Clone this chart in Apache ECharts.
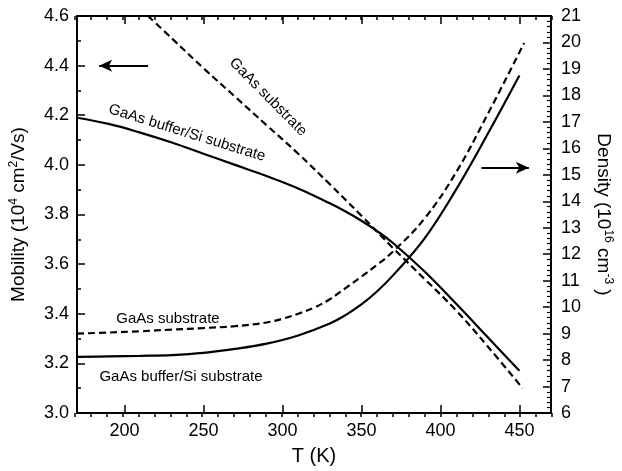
<!DOCTYPE html>
<html>
<head>
<meta charset="utf-8">
<script src="https://cdn.jsdelivr.net/npm/echarts@6/dist/echarts.min.js"></script>
<style>
html,body{margin:0;padding:0;background:#fff;}
#chart{width:622px;height:471px;}
</style>
</head>
<body>
<div id="chart"></div>
<script>
// temperature (K) and values
var tempSi = [170,190,210,230,250,270,290,310,330,340,350,360,370,390,410,430,450];
var mobilitySi = [4.19,4.165,4.13,4.09,4.045,4.0,3.955,3.905,3.845,3.812,3.775,3.733,3.685,3.57,3.44,3.305,3.17];
var densitySi = [8.12,8.14,8.16,8.19,8.27,8.42,8.62,8.93,9.38,9.7,10.1,10.6,11.2,12.6,14.45,16.55,18.75];

var tempGaAsMu = [215,230,250,270,290,310,330,350,370,390,410,430,452];
var mobilityGaAs = [4.60,4.51,4.39,4.275,4.16,4.045,3.922,3.795,3.665,3.54,3.413,3.268,3.10];

var tempGaAsN = [170,190,210,230,250,270,290,300,310,320,330,340,350,360,370,390,410,430,453];
var densityGaAs = [9.0,9.04,9.09,9.15,9.21,9.28,9.42,9.56,9.75,9.98,10.3,10.72,11.15,11.6,12.1,13.35,15.1,17.3,19.98];

var xMajor = [200,250,300,350,400,450];

function pairs(xs, ys){
    var out = [];
    xs.forEach(function(x, i){ out.push([x, ys[i]]); });
    return out;
}

var chart = echarts.init(document.getElementById('chart'));
var font = 'Liberation Sans, Arial, sans-serif';
var gridBox = { left: 75, right: 70, top: 16, bottom: 54 };

var option = {
    animation: false,
    backgroundColor: '#fff',
    textStyle: { fontFamily: font, color: '#000' },
    grid: [
        { left: gridBox.left, right: gridBox.right, top: gridBox.top, bottom: gridBox.bottom },
        { left: gridBox.left, right: gridBox.right, top: gridBox.top, bottom: gridBox.bottom }
    ],
    xAxis: [
        {   // bottom: major ticks + labels
            gridIndex: 0, type: 'value', position: 'bottom', min: 170, max: 470,
            name: 'T (K)', nameLocation: 'middle', nameGap: 33,
            nameTextStyle: { fontSize: 20, color: '#000', fontFamily: font },
            axisLine: { lineStyle: { color: '#000', width: 2 } },
            axisTick: { inside: true, length: 8, customValues: xMajor, lineStyle: { color: '#000', width: 1.5 } },
            axisLabel: { customValues: xMajor, fontSize: 18, color: '#000', margin: 9, fontFamily: font },
            splitLine: { show: false }
        },
        {   // top: major ticks
            gridIndex: 0, type: 'value', position: 'top', min: 170, max: 470,
            axisLine: { lineStyle: { color: '#000', width: 2 } },
            axisTick: { inside: true, length: 8, customValues: xMajor, lineStyle: { color: '#000', width: 1.5 } },
            axisLabel: { show: false },
            splitLine: { show: false }
        },
        {   // bottom minor ticks
            gridIndex: 1, type: 'value', position: 'bottom', min: 170, max: 470, interval: 10,
            axisLine: { show: false },
            axisTick: { inside: true, length: 4, lineStyle: { color: '#000', width: 1.5 } },
            axisLabel: { show: false },
            splitLine: { show: false }
        },
        {   // top minor ticks
            gridIndex: 1, type: 'value', position: 'top', min: 170, max: 470, interval: 10,
            axisLine: { show: false },
            axisTick: { inside: true, length: 4, lineStyle: { color: '#000', width: 1.5 } },
            axisLabel: { show: false },
            splitLine: { show: false }
        }
    ],
    yAxis: [
        {
            gridIndex: 0, type: 'value', position: 'left', min: 3.0, max: 4.6, interval: 0.2,
            name: '{a|Mobility (10}{s|4}{a| cm}{s|2}{a|/Vs)}',
            nameLocation: 'middle', nameGap: 47, nameRotate: 90,
            nameTextStyle: {
                rich: {
                    a: { fontSize: 19, color: '#000', fontFamily: font },
                    s: { fontSize: 12, color: '#000', fontFamily: font, padding: [0, 0, 10, 0] }
                }
            },
            axisLine: { lineStyle: { color: '#000', width: 2 } },
            axisTick: { inside: true, length: 8, lineStyle: { color: '#000', width: 1.5 } },
            minorTick: { show: true, splitNumber: 2, length: 4, lineStyle: { color: '#000', width: 1.5 } },
            axisLabel: {
                fontSize: 18, color: '#000', margin: 8, fontFamily: font,
                formatter: function(v){ return v.toFixed(1); }
            },
            splitLine: { show: false }
        },
        {
            gridIndex: 0, type: 'value', position: 'right', min: 6, max: 21, interval: 1,
            name: '{a|Density (10}{s|16}{a| cm}{s|-3}{a| )}',
            nameLocation: 'middle', nameGap: 41, nameRotate: -90,
            nameTextStyle: {
                rich: {
                    a: { fontSize: 19, color: '#000', fontFamily: font },
                    s: { fontSize: 12, color: '#000', fontFamily: font, padding: [0, 0, 10, 0] }
                }
            },
            axisLine: { lineStyle: { color: '#000', width: 2 } },
            axisTick: { inside: true, length: 8, lineStyle: { color: '#000', width: 1.5 } },
            minorTick: { show: true, splitNumber: 5, length: 4, lineStyle: { color: '#000', width: 1.2 } },
            axisLabel: { fontSize: 18, color: '#000', margin: 10, fontFamily: font },
            splitLine: { show: false }
        },
        { gridIndex: 1, type: 'value', min: 0, max: 1, show: false }
    ],
    series: [
        {
            name: 'mobility Si', type: 'line', xAxisIndex: 0, yAxisIndex: 0,
            data: pairs(tempSi, mobilitySi), smooth: 0.4, showSymbol: false, symbol: 'none',
            lineStyle: { color: '#000', width: 2.2, type: 'solid' },
            markLine: {
                silent: true, symbol: ['none', 'arrow'], symbolSize: [9, 13],
                label: { show: false },
                lineStyle: { color: '#000', width: 2, type: 'solid' },
                data: [[{ coord: [215, 4.4] }, { coord: [184, 4.4] }]]
            }
        },
        {
            name: 'mobility GaAs', type: 'line', xAxisIndex: 0, yAxisIndex: 0,
            data: pairs(tempGaAsMu, mobilityGaAs), smooth: 0.4, showSymbol: false, symbol: 'none',
            lineStyle: { color: '#000', width: 2.2, type: [7, 4] }
        },
        {
            name: 'density Si', type: 'line', xAxisIndex: 0, yAxisIndex: 1,
            data: pairs(tempSi, densitySi), smooth: 0.4, showSymbol: false, symbol: 'none',
            lineStyle: { color: '#000', width: 2.2, type: 'solid' },
            markLine: {
                silent: true, symbol: ['none', 'arrow'], symbolSize: [9, 13],
                label: { show: false },
                lineStyle: { color: '#000', width: 2, type: 'solid' },
                data: [[{ coord: [426, 15.27] }, { coord: [456, 15.27] }]]
            }
        },
        {
            name: 'density GaAs', type: 'line', xAxisIndex: 0, yAxisIndex: 1,
            data: pairs(tempGaAsN, densityGaAs), smooth: 0.4, showSymbol: false, symbol: 'none',
            lineStyle: { color: '#000', width: 2.2, type: [7, 4] }
        }
    ],
    graphic: [
        { type: 'text', x: 268, y: 97, rotation: -0.79,
          style: { text: 'GaAs substrate', font: '15px ' + font, fill: '#000', align: 'center', verticalAlign: 'middle' } },
        { type: 'text', x: 187, y: 133, rotation: -0.30,
          style: { text: 'GaAs buffer/Si substrate', font: '15px ' + font, fill: '#000', align: 'center', verticalAlign: 'middle' } },
        { type: 'text', x: 168, y: 319,
          style: { text: 'GaAs substrate', font: '15px ' + font, fill: '#000', align: 'center', verticalAlign: 'middle' } },
        { type: 'text', x: 181, y: 377,
          style: { text: 'GaAs buffer/Si substrate', font: '15px ' + font, fill: '#000', align: 'center', verticalAlign: 'middle' } }
    ]
};

chart.setOption(option);
</script>
</body>
</html>
